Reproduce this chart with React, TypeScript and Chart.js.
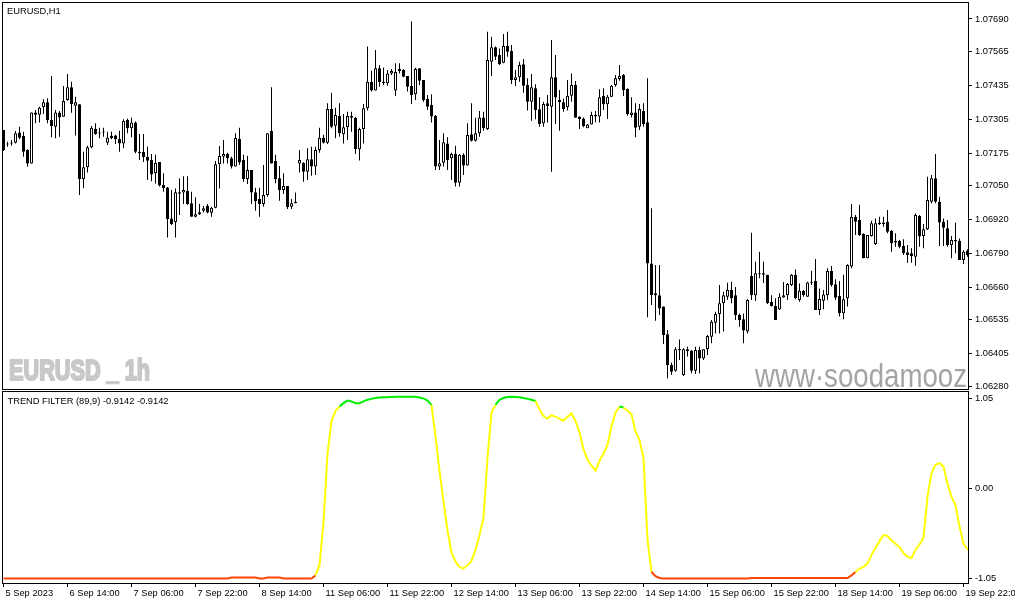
import React, { useEffect, useRef } from "react";
import { Chart, registerables } from "chart.js";

Chart.register(...registerables);

// ---------- DATA (EURUSD H1, bar 0 = 5 Sep 2023 22:00) ----------
const open = [
  1.07264,1.07210,1.07212,1.07215,1.07254,1.07241,1.07187,1.07135,1.07331,1.07322,
  1.07351,1.07370,1.07302,1.07276,1.07331,1.07314,1.07379,1.07428,1.07357,1.07362,
  1.07075,1.07120,1.07197,1.07268,1.07252,1.07254,1.07215,1.07241,1.07242,1.07229,
  1.07212,1.07302,1.07270,1.07292,1.07180,1.07180,1.07161,1.07148,1.07097,1.07141,
  1.07052,1.07043,1.06924,1.06909,1.07024,1.07023,1.07030,1.06982,1.06930,1.06940,
  1.06953,1.06973,1.06946,1.06965,1.07132,1.07161,1.07171,1.07155,1.07123,1.07229,
  1.07148,1.07075,1.07110,1.07024,1.06999,1.06979,1.07014,1.07260,1.07144,1.07078,
  1.07033,1.07048,1.06969,1.06988,1.07135,1.07138,1.07103,1.07151,1.07123,1.07187,
  1.07234,1.07215,1.07344,1.07280,1.07317,1.07247,1.07274,1.07317,1.07311,1.07190,
  1.07267,1.07347,1.07449,1.07415,1.07501,1.07449,1.07443,1.07481,1.07415,1.07498,
  1.07494,1.07471,1.07433,1.07401,1.07501,1.07456,1.07383,1.07360,1.07317,1.07123,
  1.07138,1.07212,1.07155,1.07171,1.07061,1.07168,1.07127,1.07247,1.07222,1.07251,
  1.07312,1.07267,1.07526,1.07581,1.07552,1.07522,1.07586,1.07567,1.07456,1.07466,
  1.07516,1.07436,1.07372,1.07424,1.07343,1.07289,1.07366,1.07353,1.07466,1.07379,
  1.07370,1.07351,1.07395,1.07436,1.07315,1.07308,1.07270,1.07285,1.07321,1.07315,
  1.07394,1.07362,1.07391,1.07436,1.07459,1.07475,1.07421,1.07321,1.07331,1.07276,
  1.07337,1.07293,1.06751,1.06636,1.06629,1.06585,1.06479,1.06361,1.06339,1.06421,
  1.06322,1.06421,1.06416,1.06339,1.06418,1.06386,1.06421,1.06469,1.06523,1.06557,
  1.06598,1.06623,1.06649,1.06629,1.06553,1.06536,1.06489,1.06703,1.06629,1.06713,
  1.06713,1.06707,1.06604,1.06587,1.06574,1.06620,1.06629,1.06668,1.06707,1.06610,
  1.06645,1.06623,1.06677,1.06683,1.06572,1.06608,1.06629,1.06722,1.06671,1.06626,
  1.06560,1.06617,1.06739,1.06930,1.06918,1.06864,1.06771,1.06856,1.06826,1.06908,
  1.06908,1.06911,1.06876,1.06838,1.06838,1.06818,1.06794,1.06790,1.06777,1.06933,
  1.06856,1.06882,1.06988,1.07078,1.06988,1.06911,1.06886,1.06822,1.06835,1.06838,
  1.06764,1.06800,
];

const high = [
  1.07264,1.07218,1.07225,1.07260,1.07276,1.07257,1.07190,1.07331,1.07340,1.07353,
  1.07382,1.07386,1.07471,1.07340,1.07337,1.07433,1.07479,1.07449,1.07391,1.07362,
  1.07180,1.07203,1.07279,1.07289,1.07272,1.07272,1.07257,1.07257,1.07245,1.07261,
  1.07305,1.07308,1.07311,1.07296,1.07248,1.07248,1.07199,1.07171,1.07168,1.07141,
  1.07097,1.07045,1.07033,1.07039,1.07078,1.07086,1.07086,1.07026,1.07005,1.06979,
  1.06972,1.06979,1.06969,1.07144,1.07202,1.07225,1.07176,1.07161,1.07251,1.07272,
  1.07168,1.07165,1.07110,1.07042,1.07042,1.07129,1.07251,1.07428,1.07168,1.07125,
  1.07097,1.07048,1.06998,1.07023,1.07187,1.07140,1.07193,1.07199,1.07199,1.07272,
  1.07245,1.07366,1.07407,1.07349,1.07366,1.07325,1.07334,1.07334,1.07314,1.07272,
  1.07363,1.07584,1.07491,1.07571,1.07513,1.07504,1.07494,1.07498,1.07520,1.07520,
  1.07497,1.07471,1.07680,1.07503,1.07501,1.07456,1.07398,1.07401,1.07321,1.07225,
  1.07251,1.07236,1.07176,1.07203,1.07171,1.07174,1.07289,1.07366,1.07311,1.07337,
  1.07334,1.07641,1.07622,1.07584,1.07577,1.07632,1.07641,1.07590,1.07494,1.07526,
  1.07536,1.07462,1.07479,1.07439,1.07389,1.07372,1.07398,1.07609,1.07552,1.07417,
  1.07385,1.07456,1.07481,1.07452,1.07315,1.07312,1.07287,1.07334,1.07337,1.07420,
  1.07424,1.07398,1.07436,1.07475,1.07513,1.07479,1.07424,1.07389,1.07366,1.07363,
  1.07366,1.07462,1.06963,1.06745,1.06745,1.06585,1.06495,1.06370,1.06429,1.06459,
  1.06425,1.06431,1.06418,1.06431,1.06431,1.06421,1.06476,1.06534,1.06565,1.06668,
  1.06642,1.06677,1.06681,1.06660,1.06559,1.06559,1.06613,1.06869,1.06757,1.06796,
  1.06757,1.06707,1.06629,1.06617,1.06636,1.06680,1.06676,1.06710,1.06728,1.06674,
  1.06649,1.06681,1.06723,1.06768,1.06655,1.06649,1.06732,1.06741,1.06690,1.06683,
  1.06707,1.06748,1.06979,1.06937,1.06976,1.06867,1.06860,1.06915,1.06924,1.06930,
  1.06930,1.06956,1.06879,1.06867,1.06841,1.06844,1.06822,1.06809,1.06943,1.06937,
  1.06902,1.07084,1.07091,1.07171,1.07007,1.06924,1.06918,1.06856,1.06908,1.06847,
  1.06802,1.06805,
];

const low = [
  1.07183,1.07199,1.07203,1.07212,1.07228,1.07161,1.07122,1.07135,1.07289,1.07292,
  1.07325,1.07289,1.07236,1.07232,1.07238,1.07314,1.07376,1.07330,1.07242,1.07014,
  1.07040,1.07100,1.07193,1.07245,1.07232,1.07238,1.07206,1.07228,1.07210,1.07180,
  1.07193,1.07251,1.07236,1.07174,1.07148,1.07141,1.07071,1.07067,1.07058,1.07046,
  1.07026,1.06851,1.06899,1.06851,1.06937,1.06979,1.06976,1.06930,1.06928,1.06937,
  1.06947,1.06943,1.06930,1.06963,1.07039,1.07135,1.07135,1.07116,1.07123,1.07129,
  1.07065,1.07056,1.06979,1.06953,1.06930,1.06969,1.07007,1.07135,1.07059,1.06992,
  1.07018,1.06960,1.06960,1.06982,1.07100,1.07065,1.07071,1.07088,1.07091,1.07176,
  1.07212,1.07210,1.07270,1.07232,1.07238,1.07212,1.07225,1.07257,1.07171,1.07146,
  1.07212,1.07338,1.07411,1.07415,1.07430,1.07436,1.07434,1.07475,1.07394,1.07481,
  1.07466,1.07411,1.07363,1.07379,1.07436,1.07372,1.07340,1.07292,1.07110,1.07110,
  1.07123,1.07110,1.07071,1.07046,1.07046,1.07091,1.07127,1.07219,1.07219,1.07238,
  1.07261,1.07264,1.07471,1.07532,1.07513,1.07520,1.07545,1.07440,1.07433,1.07449,
  1.07407,1.07338,1.07299,1.07305,1.07276,1.07276,1.07292,1.07103,1.07287,1.07261,
  1.07334,1.07338,1.07372,1.07311,1.07267,1.07274,1.07270,1.07285,1.07293,1.07292,
  1.07340,1.07306,1.07389,1.07430,1.07453,1.07394,1.07318,1.07312,1.07236,1.07264,
  1.07276,1.06544,1.06591,1.06531,1.06553,1.06441,1.06310,1.06322,1.06335,1.06380,
  1.06318,1.06393,1.06329,1.06326,1.06329,1.06380,1.06399,1.06444,1.06482,1.06482,
  1.06489,1.06610,1.06598,1.06534,1.06508,1.06444,1.06482,1.06610,1.06607,1.06694,
  1.06676,1.06595,1.06585,1.06534,1.06572,1.06619,1.06610,1.06664,1.06613,1.06604,
  1.06623,1.06623,1.06668,1.06572,1.06553,1.06575,1.06610,1.06661,1.06610,1.06547,
  1.06536,1.06585,1.06732,1.06860,1.06856,1.06771,1.06771,1.06854,1.06822,1.06899,
  1.06892,1.06867,1.06796,1.06815,1.06809,1.06783,1.06754,1.06754,1.06742,1.06815,
  1.06809,1.06879,1.06982,1.06982,1.06818,1.06818,1.06815,1.06771,1.06790,1.06764,
  1.06749,1.06777,
];

const close = [
  1.07187,1.07208,1.07213,1.07251,1.07234,1.07180,1.07135,1.07331,1.07322,1.07349,
  1.07370,1.07302,1.07279,1.07331,1.07312,1.07375,1.07428,1.07363,1.07370,1.07075,
  1.07120,1.07197,1.07272,1.07248,1.07250,1.07256,1.07234,1.07233,1.07228,1.07212,
  1.07298,1.07270,1.07292,1.07180,1.07174,1.07159,1.07145,1.07093,1.07138,1.07050,
  1.07041,1.06922,1.06902,1.07024,1.07019,1.07033,1.06979,1.06930,1.06940,1.06948,
  1.06963,1.06947,1.06965,1.07132,1.07164,1.07171,1.07155,1.07123,1.07233,1.07139,
  1.07075,1.07110,1.07023,1.06991,1.06979,1.07014,1.07251,1.07135,1.07075,1.07033,
  1.07048,1.06967,1.06982,1.06982,1.07148,1.07103,1.07151,1.07123,1.07187,1.07234,
  1.07215,1.07344,1.07276,1.07321,1.07251,1.07274,1.07317,1.07311,1.07190,1.07267,
  1.07347,1.07449,1.07415,1.07501,1.07447,1.07443,1.07481,1.07490,1.07486,1.07490,
  1.07468,1.07430,1.07398,1.07498,1.07453,1.07379,1.07353,1.07315,1.07123,1.07136,
  1.07216,1.07148,1.07171,1.07061,1.07168,1.07127,1.07244,1.07222,1.07251,1.07312,
  1.07270,1.07532,1.07581,1.07545,1.07516,1.07586,1.07564,1.07456,1.07466,1.07513,
  1.07434,1.07372,1.07428,1.07340,1.07287,1.07363,1.07356,1.07466,1.07388,1.07370,
  1.07344,1.07395,1.07436,1.07311,1.07305,1.07279,1.07285,1.07321,1.07315,1.07389,
  1.07362,1.07391,1.07434,1.07462,1.07471,1.07417,1.07325,1.07331,1.07272,1.07344,
  1.07287,1.06751,1.06629,1.06629,1.06578,1.06476,1.06361,1.06335,1.06421,1.06418,
  1.06421,1.06414,1.06339,1.06418,1.06386,1.06421,1.06472,1.06527,1.06557,1.06598,
  1.06629,1.06649,1.06617,1.06553,1.06534,1.06493,1.06610,1.06629,1.06713,1.06709,
  1.06707,1.06598,1.06587,1.06534,1.06623,1.06629,1.06672,1.06707,1.06617,1.06646,
  1.06629,1.06678,1.06678,1.06572,1.06614,1.06632,1.06722,1.06668,1.06619,1.06560,
  1.06613,1.06745,1.06930,1.06911,1.06860,1.06771,1.06860,1.06905,1.06905,1.06902,
  1.06902,1.06873,1.06828,1.06831,1.06815,1.06790,1.06783,1.06779,1.06937,1.06854,
  1.06882,1.06995,1.07078,1.06988,1.06908,1.06888,1.06822,1.06841,1.06841,1.06764,
  1.06796,1.06783,
];

const trendFilter = [
  -1.055,-1.055,-1.055,-1.055,-1.055,-1.055,-1.055,-1.055,-1.055,-1.055,
  -1.055,-1.055,-1.055,-1.055,-1.055,-1.055,-1.055,-1.055,-1.055,-1.055,
  -1.055,-1.055,-1.055,-1.055,-1.055,-1.055,-1.055,-1.055,-1.055,-1.055,
  -1.055,-1.055,-1.055,-1.055,-1.055,-1.055,-1.055,-1.055,-1.055,-1.055,
  -1.055,-1.055,-1.055,-1.055,-1.055,-1.055,-1.055,-1.055,-1.055,-1.055,
  -1.055,-1.055,-1.055,-1.055,-1.055,-1.055,-1.055,-1.045,-1.045,-1.045,
  -1.045,-1.045,-1.045,-1.045,-1.055,-1.055,-1.045,-1.045,-1.045,-1.045,
  -1.055,-1.055,-1.055,-1.055,-1.055,-1.055,-1.055,-1.055,-1.02,-0.9,
  -0.4,0.4,0.78,0.9,0.95,0.99,1.02,1.01,0.99,0.99,
  1.01,1.03,1.04,1.05,1.055,1.058,1.06,1.063,1.065,1.065,
  1.065,1.065,1.065,1.065,1.055,1.045,1.02,0.97,0.6,0.2,
  -0.16,-0.5,-0.75,-0.86,-0.92,-0.94,-0.9,-0.85,-0.72,-0.55,
  -0.35,0.35,0.88,0.97,1.03,1.05,1.062,1.065,1.063,1.058,
  1.05,1.04,1.03,1.015,0.92,0.84,0.81,0.85,0.83,0.81,
  0.785,0.83,0.87,0.78,0.65,0.45,0.33,0.26,0.2,0.32,
  0.4,0.5,0.72,0.88,0.95,0.94,0.9,0.86,0.66,0.56,
  0.35,-0.6,-0.98,-1.03,-1.05,-1.055,-1.055,-1.055,-1.055,-1.055,
  -1.055,-1.055,-1.055,-1.055,-1.055,-1.055,-1.055,-1.055,-1.055,-1.055,
  -1.055,-1.055,-1.055,-1.055,-1.055,-1.055,-1.055,-1.05,-1.05,-1.05,
  -1.05,-1.05,-1.05,-1.05,-1.05,-1.05,-1.05,-1.05,-1.05,-1.05,
  -1.05,-1.05,-1.05,-1.05,-1.05,-1.05,-1.05,-1.05,-1.05,-1.05,
  -1.05,-1.05,-1.02,-0.98,-0.94,-0.92,-0.88,-0.78,-0.7,-0.62,
  -0.55,-0.56,-0.61,-0.65,-0.69,-0.76,-0.8,-0.82,-0.72,-0.66,
  -0.58,-0.1,0.17,0.27,0.29,0.25,0.05,-0.1,-0.2,-0.45,
  -0.65,-0.72,
];

const priceTicks = [1.0769, 1.07565, 1.07435, 1.07305, 1.07175, 1.0705, 1.0692, 1.0679, 1.0666, 1.06535, 1.06405, 1.0628];
const filterTicks = [1.05, 0, -1.05];
const timeLabelIndex = [0, 16, 32, 48, 64, 80, 96, 112, 128, 144, 160, 176, 192, 208, 224, 240];
const timeLabels = [
  "5 Sep 2023", "6 Sep 14:00", "7 Sep 06:00", "7 Sep 22:00", "8 Sep 14:00", "11 Sep 06:00",
  "11 Sep 22:00", "12 Sep 14:00", "13 Sep 06:00", "13 Sep 22:00", "14 Sep 14:00", "15 Sep 06:00",
  "15 Sep 22:00", "18 Sep 14:00", "19 Sep 06:00", "19 Sep 22:00",
];
const SYMBOL_TITLE = "EURUSD,H1";
const INDICATOR_TITLE = "TREND FILTER (89,9) -0.9142 -0.9142";
const WATERMARK_LEFT = "EURUSD _ 1h";
const WATERMARK_RIGHT = "www\u00B7soodamooz.com";

// ---------- STYLE ----------
const FONT = "'Liberation Sans', Arial, sans-serif";
const FS = 9.3;
const RED = "#FF4500";
const GREEN = "#00EE00";
const YELLOW = "#FFFF00";
const X_MIN = -0.375;
const X_MAX = 241.125;

const frameMain = {
  id: "frameMain",
  beforeDatasetsDraw(chart: any) {
    const { ctx, chartArea: a } = chart;
    ctx.save();
    ctx.beginPath();
    ctx.rect(a.left, a.top, a.right - a.left, a.bottom - a.top);
    ctx.clip();
    // left watermark (heavy, condensed)
    ctx.fillStyle = "#c8c8c8";
    ctx.strokeStyle = "#c8c8c8";
    ctx.lineWidth = 2.2;
    ctx.lineJoin = "round";
    ctx.font = `bold 30px ${FONT}`;
    ctx.textBaseline = "alphabetic";
    const w1 = ctx.measureText(WATERMARK_LEFT).width;
    ctx.save();
    ctx.translate(9, 380);
    ctx.scale(141 / w1, 1);
    ctx.fillText(WATERMARK_LEFT, 0, 0);
    ctx.strokeText(WATERMARK_LEFT, 0, 0);
    ctx.restore();
    // right watermark
    ctx.fillStyle = "#a4a4a4";
    ctx.font = `33px ${FONT}`;
    const w2 = ctx.measureText("www\u00B7soodamooz").width;
    ctx.save();
    ctx.translate(755, 387);
    ctx.scale(212 / w2, 1);
    ctx.fillText(WATERMARK_RIGHT, 0, 0);
    ctx.restore();
    ctx.restore();
  },
  afterDraw(chart: any) {
    const { ctx, chartArea: a } = chart;
    ctx.save();
    ctx.strokeStyle = "#000";
    ctx.lineWidth = 1;
    ctx.strokeRect(a.left + 0.5, a.top + 0.5, a.right - a.left, a.bottom - a.top);
    ctx.fillStyle = "#000";
    ctx.font = `${FS}px ${FONT}`;
    ctx.textBaseline = "alphabetic";
    ctx.fillText(SYMBOL_TITLE, 7, 14);
    ctx.restore();
  },
};

const frameInd = {
  id: "frameInd",
  afterDraw(chart: any) {
    const { ctx, chartArea: a } = chart;
    ctx.save();
    ctx.strokeStyle = "#000";
    ctx.lineWidth = 1;
    ctx.strokeRect(a.left + 0.5, a.top + 0.5, a.right - a.left, a.bottom - a.top);
    ctx.fillStyle = "#000";
    ctx.font = `${FS}px ${FONT}`;
    ctx.textBaseline = "alphabetic";
    ctx.fillText(INDICATOR_TITLE, 7.5, 14);
    ctx.restore();
  },
};

const yAxisCommon = (ticks: number[], digits: number, min: number, max: number) => ({
  type: "linear",
  position: "right",
  min,
  max,
  beginAtZero: false,
  afterBuildTicks: (s: any) => {
    s.ticks = ticks.slice().sort((p, q) => p - q).map((v) => ({ value: v }));
  },
  afterFit: (s: any) => {
    s.width = 47;
    s.paddingTop = 0;
    s.paddingBottom = 0;
  },
  grid: { drawOnChartArea: false, drawTicks: true, tickLength: 4, tickColor: "#000", color: "#000", tickWidth: 1 },
  border: { display: false },
  ticks: {
    autoSkip: false,
    color: "#000",
    padding: 3,
    font: { family: FONT, size: FS },
    callback: (v: any) => Number(v).toFixed(digits),
  },
});

export default function App() {
  const mainRef = useRef<HTMLCanvasElement | null>(null);
  const indRef = useRef<HTMLCanvasElement | null>(null);

  useEffect(() => {
    const bodies = open.map((o, i) => ({ x: i, y: [o, close[i]] }));
    const wicks = high.map((h, i) => ({ x: i, y: [low[i], h] }));

    const mainChart = new Chart(mainRef.current as HTMLCanvasElement, {
      type: "bar",
      data: {
        datasets: [
          {
            data: bodies as any,
            barThickness: 3,
            grouped: false,
            backgroundColor: (c: any) => {
              const i = c.dataIndex;
              return close[i] >= open[i] ? "#ffffff" : "#000000";
            },
            borderColor: "#000",
            borderWidth: 1,
            borderSkipped: false,
            inflateAmount: 0,
            minBarLength: 1,
            order: 1,
          } as any,
          {
            data: wicks as any,
            barThickness: 1,
            grouped: false,
            backgroundColor: "#000",
            borderWidth: 0,
            inflateAmount: 0,
            order: 2,
          } as any,
        ],
      },
      options: {
        responsive: false,
        animation: false,
        devicePixelRatio: 1,
        events: [],
        layout: { padding: { top: 2, left: 2, right: 0, bottom: 1 } },
        plugins: { legend: { display: false }, tooltip: { enabled: false } },
        scales: {
          x: { type: "linear", min: X_MIN, max: X_MAX, offset: false, display: false, grid: { offset: false } },
          y: yAxisCommon(priceTicks, 5, 1.062685, 1.077553),
        } as any,
      },
      plugins: [frameMain],
    });

    const indChart = new Chart(indRef.current as HTMLCanvasElement, {
      type: "line",
      data: {
        datasets: [
          {
            data: trendFilter.map((v, i) => ({ x: i, y: v })),
            borderColor: YELLOW,
            borderWidth: 2,
            pointRadius: 0,
            tension: 0,
            fill: false,
            segment: {
              borderColor: (c: any) => {
                const a = c.p0.parsed.y;
                const b = c.p1.parsed.y;
                if (a <= -0.97 && b <= -0.97) return RED;
                if (a >= 0.93 && b >= 0.93) return GREEN;
                return YELLOW;
              },
            },
          } as any,
        ],
      },
      options: {
        responsive: false,
        animation: false,
        devicePixelRatio: 1,
        events: [],
        layout: { padding: { top: 1, left: 2, right: 0, bottom: 0 } },
        plugins: { legend: { display: false }, tooltip: { enabled: false } },
        scales: {
          x: {
            type: "linear",
            min: X_MIN,
            max: X_MAX,
            offset: false,
            afterBuildTicks: (s: any) => {
              s.ticks = timeLabelIndex.map((v) => ({ value: v }));
            },
            afterFit: (s: any) => {
              s.height = 22;
              s.paddingLeft = 0;
              s.paddingRight = 0;
            },
            grid: { drawOnChartArea: false, drawTicks: true, tickLength: 4, tickColor: "#000", color: "#000", tickWidth: 1 },
            border: { display: false },
            ticks: {
              autoSkip: false,
              maxRotation: 0,
              minRotation: 0,
              align: "start",
              labelOffset: 2,
              padding: 1,
              color: "#000",
              font: { family: FONT, size: FS },
              callback: (v: any) => {
                const k = timeLabelIndex.indexOf(Number(v));
                return k >= 0 ? timeLabels[k] : "";
              },
            },
          },
          y: yAxisCommon(filterTicks, 2, -1.1083, 1.1317),
        } as any,
      },
      plugins: [frameInd],
    });

    return () => {
      mainChart.destroy();
      indChart.destroy();
    };
  }, []);

  return (
    <div style={{ position: "fixed", left: 0, top: 0, width: 1015, height: 605, background: "#fff", overflow: "hidden" }}>
      <canvas ref={mainRef} width={1015} height={390} style={{ position: "absolute", left: 0, top: 0, width: 1015, height: 390 }} />
      <canvas ref={indRef} width={1015} height={215} style={{ position: "absolute", left: 0, top: 390, width: 1015, height: 215 }} />
    </div>
  );
}
